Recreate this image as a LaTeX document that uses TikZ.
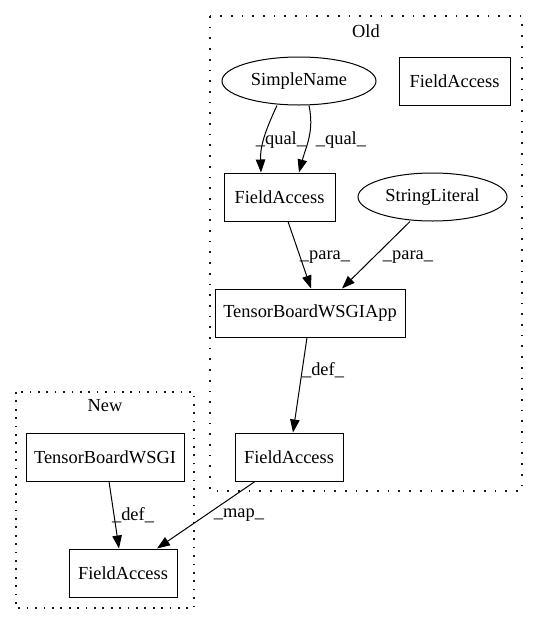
\documentclass[tikz,border=0pt]{standalone}
\usepackage{fontspec}
\setmainfont{Liberation Serif}
\usepackage{tikz}
\usetikzlibrary{arrows.meta, positioning, shapes.geometric}

\begin{document}
\begin{tikzpicture}[x=1pt,y=1pt,
            box/.style={draw,line width=1pt,minimum height=48pt,inner sep=0pt,font=\fontsize{18.4}{20}\selectfont},
            oval/.style={draw,ellipse,line width=1pt,minimum height=48pt,inner sep=0pt,font=\fontsize{18.4}{20}\selectfont},
            lbl/.style={inner sep=0pt,font=\fontsize{18.4}{20}\selectfont},
            cluster/.style={line width=1.2pt,black!90,dash pattern=on 1.7pt off #1},
            edge/.style={line width=1pt,-{Triangle[length=13pt,width=9.5pt]}}]

            \useasboundingbox (0,0) rectangle (537,-624);

            % Clusters
            \draw[cluster=9pt] (210,-16) rectangle (522,-491);
            \node[lbl] (oldlbl) at (366,-31) {Old};
            \draw[cluster=6.7pt] (16,-392) rectangle (194,-608);
            \node[lbl] (newlbl) at (105,-406) {New};

            % Old nodes
            \node[oval,minimum width=154pt] (sname) at (299,-81) {SimpleName};
            \node[box,minimum width=111pt] (fa0) at (454.5,-81) {FieldAccess};
            \node[box,minimum width=111pt] (fa1) at (279.5,-197) {FieldAccess};
            \node[oval,minimum width=149pt] (slit) at (432.5,-197) {StringLiteral};
            \node[box,minimum width=190pt] (tbapp) at (310,-313) {TensorBoardWSGIApp};
            \node[box,minimum width=108pt] (fa2) at (289,-457) {FieldAccess};

            % New nodes
            \node[box,minimum width=158pt] (tbwsgi) at (105,-457) {TensorBoardWSGI};
            \node[box,minimum width=108pt] (fa3) at (123,-573) {FieldAccess};

            % Edges
            \draw[edge] ([xshift=-22pt]sname.south) to[out=245,in=92] ([xshift=-18.5pt]fa1.north);
            \node[lbl] (q1) at (281,-140) {\_qual\_};
            \draw[edge] ([xshift=10pt]sname.south) to[out=-78,in=75] ([xshift=19.5pt]fa1.north);
            \node[lbl] (q2) at (341,-140) {\_qual\_};

            \draw[edge] ([xshift=8.5pt]fa1.south) -- ([xshift=1pt]tbapp.north);
            \node[lbl] (p1) at (325,-257) {\_para\_};
            \draw[edge] ([xshift=-22.5pt]slit.south) -- ([xshift=32pt]tbapp.north);
            \node[lbl] (p2) at (408,-257) {\_para\_};

            \draw[edge] ([xshift=-3pt]tbapp.south) -- ([xshift=4pt]fa2.north);
            \node[lbl] (d1) at (323,-370) {\_def\_};

            \draw[edge] ([xshift=-34pt]fa2.south) -- ([xshift=34pt]fa3.north);
            \node[lbl] (m1) at (239,-515) {\_map\_};

            \draw[edge] ([xshift=4pt]tbwsgi.south) -- ([xshift=-4pt]fa3.north);
            \node[lbl] (d2) at (133,-515) {\_def\_};
        \end{tikzpicture}
\end{document}
